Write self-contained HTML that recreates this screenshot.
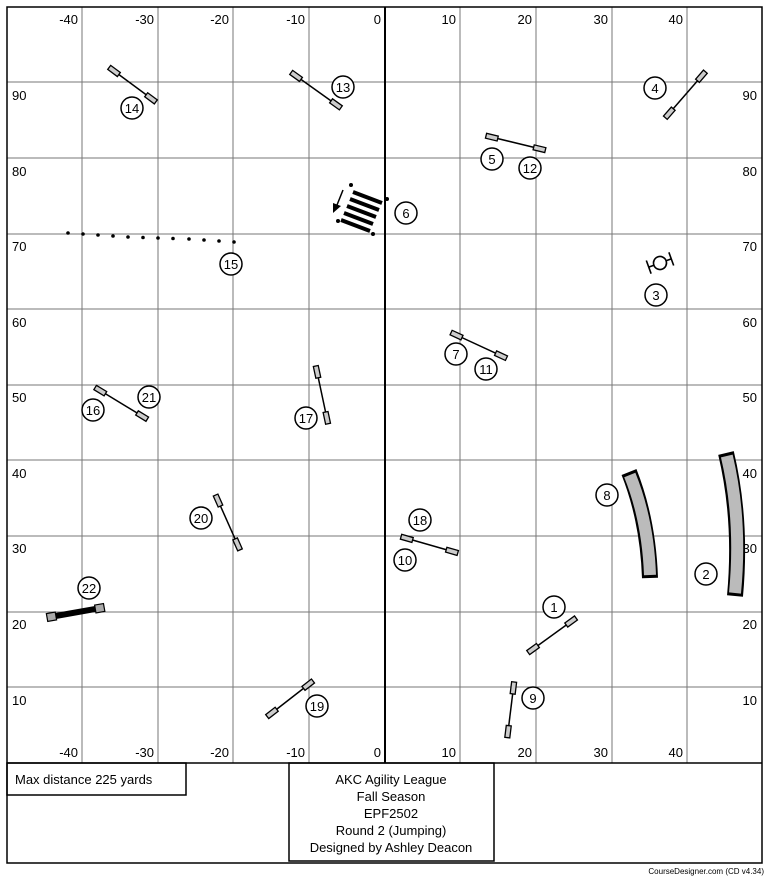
<!DOCTYPE html>
<html><head><meta charset="utf-8"><style>
html,body{margin:0;padding:0;background:#fff;}
svg{display:block;}
text{font-family:"Liberation Sans",Arial,sans-serif;fill:#000;}
</style></head><body>
<svg width="768" height="877" viewBox="0 0 768 877" xmlns="http://www.w3.org/2000/svg">
<defs>
<g id="w"><rect x="-1" y="-2.5" width="12" height="5" fill="#ccc" stroke="#000" stroke-width="1.3"/></g>
</defs>
<!-- grid -->
<g stroke="#777" stroke-width="1">
<line x1="82" y1="7" x2="82" y2="763"/><line x1="158" y1="7" x2="158" y2="763"/>
<line x1="233" y1="7" x2="233" y2="763"/><line x1="309" y1="7" x2="309" y2="763"/>
<line x1="460" y1="7" x2="460" y2="763"/><line x1="536" y1="7" x2="536" y2="763"/>
<line x1="612" y1="7" x2="612" y2="763"/><line x1="687" y1="7" x2="687" y2="763"/>
<line x1="7" y1="82" x2="762" y2="82"/><line x1="7" y1="158" x2="762" y2="158"/>
<line x1="7" y1="234" x2="762" y2="234"/><line x1="7" y1="309" x2="762" y2="309"/>
<line x1="7" y1="385" x2="762" y2="385"/><line x1="7" y1="460" x2="762" y2="460"/>
<line x1="7" y1="536" x2="762" y2="536"/><line x1="7" y1="612" x2="762" y2="612"/>
<line x1="7" y1="687" x2="762" y2="687"/>
</g>
<line x1="385" y1="7" x2="385" y2="763" stroke="#000" stroke-width="2"/>
<rect x="7" y="7" width="755" height="856" fill="none" stroke="#000" stroke-width="1.5"/>
<line x1="7" y1="763" x2="762" y2="763" stroke="#000" stroke-width="1.5"/>
<!-- axis labels -->
<g font-size="13" text-anchor="end">
<text x="78" y="24">-40</text><text x="154" y="24">-30</text><text x="229" y="24">-20</text><text x="305" y="24">-10</text><text x="381" y="24">0</text>
<text x="456" y="24">10</text><text x="532" y="24">20</text><text x="608" y="24">30</text><text x="683" y="24">40</text>
<text x="78" y="757">-40</text><text x="154" y="757">-30</text><text x="229" y="757">-20</text><text x="305" y="757">-10</text><text x="381" y="757">0</text>
<text x="456" y="757">10</text><text x="532" y="757">20</text><text x="608" y="757">30</text><text x="683" y="757">40</text>
<text x="757" y="100">90</text><text x="757" y="176">80</text><text x="757" y="251">70</text><text x="757" y="327">60</text><text x="757" y="402">50</text><text x="757" y="478">40</text><text x="757" y="553">30</text><text x="757" y="629">20</text><text x="757" y="705">10</text>
</g>
<g font-size="13">
<text x="12" y="100">90</text><text x="12" y="176">80</text><text x="12" y="251">70</text><text x="12" y="327">60</text><text x="12" y="402">50</text><text x="12" y="478">40</text><text x="12" y="553">30</text><text x="12" y="629">20</text><text x="12" y="705">10</text>
</g>
<!-- jumps -->
<g stroke="#000" stroke-width="1.5">
<g transform="translate(110,68) rotate(36.5)"><line x1="0" y1="0" x2="57" y2="0"/><use href="#w"/><use href="#w" x="46"/></g>
<g transform="translate(292,73) rotate(35.5)"><line x1="0" y1="0" x2="60" y2="0"/><use href="#w"/><use href="#w" x="49"/></g>
<g transform="translate(666,117) rotate(-49)"><line x1="0" y1="0" x2="60" y2="0"/><use href="#w"/><use href="#w" x="49"/></g>
<g transform="translate(487,136) rotate(13.6)"><line x1="0" y1="0" x2="60" y2="0"/><use href="#w"/><use href="#w" x="49"/></g>
<g transform="translate(452,333) rotate(24.8)"><line x1="0" y1="0" x2="60" y2="0"/><use href="#w"/><use href="#w" x="49"/></g>
<g transform="translate(96,388) rotate(31.3)"><line x1="0" y1="0" x2="60" y2="0"/><use href="#w"/><use href="#w" x="49"/></g>
<g transform="translate(316,367) rotate(78)"><line x1="0" y1="0" x2="58" y2="0"/><use href="#w"/><use href="#w" x="47"/></g>
<g transform="translate(216,496) rotate(66)"><line x1="0" y1="0" x2="59" y2="0"/><use href="#w"/><use href="#w" x="48"/></g>
<g transform="translate(402,537) rotate(16)"><line x1="0" y1="0" x2="58" y2="0"/><use href="#w"/><use href="#w" x="47"/></g>
<g transform="translate(529,652) rotate(-35.9)"><line x1="0" y1="0" x2="58" y2="0"/><use href="#w"/><use href="#w" x="47"/></g>
<g transform="translate(268,716) rotate(-37.9)"><line x1="0" y1="0" x2="57" y2="0"/><use href="#w"/><use href="#w" x="46"/></g>
<g transform="translate(514,683) rotate(97)"><line x1="0" y1="0" x2="55" y2="0"/><use href="#w"/><use href="#w" x="44"/></g>
</g>
<!-- 22 -->
<g transform="translate(50,617) rotate(-10)">
<rect x="0" y="-3" width="52" height="6" fill="#000"/>
<rect x="-3" y="-4" width="9" height="8" fill="#aaa" stroke="#000" stroke-width="1.2"/>
<rect x="46" y="-4" width="9" height="8" fill="#aaa" stroke="#000" stroke-width="1.2"/>
</g>
<!-- tunnels -->
<path d="M629,472 Q648,520 650,578" stroke="#000" stroke-width="16" fill="none"/>
<path d="M629.8,475 Q648,520 650,575" stroke="#bbb" stroke-width="12" fill="none"/>
<path d="M726,453 Q742,520 735,596" stroke="#000" stroke-width="16" fill="none"/>
<path d="M726.8,456 Q742,520 735,593" stroke="#bbb" stroke-width="12" fill="none"/>
<!-- 6 -->
<g stroke="#000" stroke-width="4">
<line x1="353" y1="192" x2="382" y2="203"/><line x1="350" y1="199" x2="379" y2="210"/>
<line x1="347" y1="206" x2="376" y2="217"/><line x1="344" y1="213" x2="373" y2="224"/>
<line x1="341" y1="220" x2="370" y2="231"/>
</g>
<g fill="#000"><circle cx="351" cy="185" r="2"/><circle cx="338" cy="221" r="2"/><circle cx="373" cy="234" r="2"/><circle cx="387" cy="199" r="2"/></g>
<line x1="343" y1="190" x2="337" y2="205" stroke="#000" stroke-width="1.5"/>
<polygon points="333,213 333,203 341,206" fill="#000"/>
<!-- 15 dots -->
<g fill="#000">
<circle cx="68" cy="233" r="1.8"/><circle cx="83" cy="234" r="1.8"/><circle cx="98" cy="235" r="1.8"/><circle cx="113" cy="236" r="1.8"/><circle cx="128" cy="237" r="1.8"/><circle cx="143" cy="237.5" r="1.8"/><circle cx="158" cy="238" r="1.8"/><circle cx="173" cy="238.5" r="1.8"/><circle cx="189" cy="239" r="1.8"/><circle cx="204" cy="240" r="1.8"/><circle cx="219" cy="241" r="1.8"/><circle cx="234" cy="242" r="1.8"/>
</g>
<!-- 3 -->
<g transform="translate(660,263) rotate(-20)" stroke="#000" stroke-width="1.6" fill="none">
<circle cx="0" cy="0" r="6.5" fill="#fff"/>
<line x1="-12" y1="0" x2="-6.5" y2="0"/><line x1="6.5" y1="0" x2="12" y2="0"/>
<line x1="-12" y1="-7" x2="-12" y2="7"/><line x1="12" y1="-7" x2="12" y2="7"/>
</g>
<!-- numbers -->
<g fill="#fff" stroke="#000" stroke-width="1.5">
<circle cx="132" cy="108" r="11"/><circle cx="343" cy="87" r="11"/><circle cx="655" cy="88" r="11"/>
<circle cx="492" cy="159" r="11"/><circle cx="530" cy="168" r="11"/><circle cx="406" cy="213" r="11"/>
<circle cx="231" cy="264" r="11"/><circle cx="656" cy="295" r="11"/><circle cx="456" cy="354" r="11"/>
<circle cx="486" cy="369" r="11"/><circle cx="93" cy="410" r="11"/><circle cx="149" cy="397" r="11"/>
<circle cx="306" cy="418" r="11"/><circle cx="607" cy="495" r="11"/><circle cx="706" cy="574" r="11"/>
<circle cx="201" cy="518" r="11"/><circle cx="420" cy="520" r="11"/><circle cx="405" cy="560" r="11"/>
<circle cx="89" cy="588" r="11"/><circle cx="554" cy="607" r="11"/><circle cx="317" cy="706" r="11"/>
<circle cx="533" cy="698" r="11"/>
</g>
<g font-size="13" text-anchor="middle">
<text x="132" y="113">14</text><text x="343" y="92">13</text><text x="655" y="93">4</text>
<text x="492" y="164">5</text><text x="530" y="173">12</text><text x="406" y="218">6</text>
<text x="231" y="269">15</text><text x="656" y="300">3</text><text x="456" y="359">7</text>
<text x="486" y="374">11</text><text x="93" y="415">16</text><text x="149" y="402">21</text>
<text x="306" y="423">17</text><text x="607" y="500">8</text><text x="706" y="579">2</text>
<text x="201" y="523">20</text><text x="420" y="525">18</text><text x="405" y="565">10</text>
<text x="89" y="593">22</text><text x="554" y="612">1</text><text x="317" y="711">19</text>
<text x="533" y="703">9</text>
</g>
<!-- info boxes -->
<rect x="7" y="763" width="179" height="32" fill="none" stroke="#000" stroke-width="1.5"/>
<text x="15" y="784" font-size="13">Max distance 225 yards</text>
<rect x="289" y="763" width="205" height="98" fill="none" stroke="#000" stroke-width="1.5"/>
<g font-size="13" text-anchor="middle">
<text x="391" y="784">AKC Agility League</text>
<text x="391" y="801">Fall Season</text>
<text x="391" y="818">EPF2502</text>
<text x="391" y="835">Round 2 (Jumping)</text>
<text x="391" y="852">Designed by Ashley Deacon</text>
</g>
<text x="764" y="874" font-size="8" text-anchor="end">CourseDesigner.com (CD v4.34)</text>
</svg>
</body></html>
